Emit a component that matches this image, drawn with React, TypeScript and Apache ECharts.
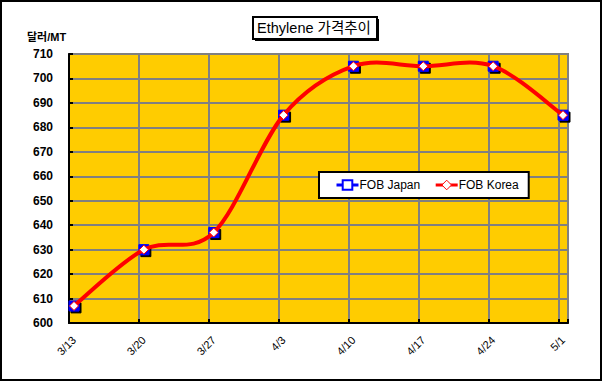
import React, { useEffect, useRef } from "react";
import * as echarts from "echarts";

const categories = ["3/13", "3/20", "3/27", "4/3", "4/10", "4/17", "4/24", "5/1"];
const fobJapan = [607, 630, 637, 685, 705, 705, 705, 685];
const fobKorea = [607, 630, 637, 685, 705, 705, 705, 685];
const yMin = 600;
const yMax = 710;
const yStep = 10;
const titleText = "Ethylene 가격추이";
const unitText = "달러/MT";

const FONT = "'Liberation Sans', Arial, sans-serif";

// Catmull-Rom style smoothing (like a spreadsheet's smoothed line), drawn through the axis scale
function smoothPath(pts: number[][]): string {
  if (pts.length < 2) return "";
  let d = `M${pts[0][0]},${pts[0][1]}`;
  for (let i = 0; i < pts.length - 1; i++) {
    const p0 = pts[i - 1] || pts[i];
    const p1 = pts[i];
    const p2 = pts[i + 1];
    const p3 = pts[i + 2] || pts[i + 1];
    const c1x = p1[0] + (p2[0] - p0[0]) / 6;
    const c1y = p1[1] + (p2[1] - p0[1]) / 6;
    const c2x = p2[0] - (p3[0] - p1[0]) / 6;
    const c2y = p2[1] - (p3[1] - p1[1]) / 6;
    d += ` C${c1x},${c1y} ${c2x},${c2y} ${p2[0]},${p2[1]}`;
  }
  return d;
}

export default function App() {
  const ref = useRef<HTMLDivElement>(null);
  useEffect(() => {
    if (!ref.current) return;
    const chart = echarts.init(ref.current, null, { renderer: "svg" });
    const option: any = {
      animation: false,
      backgroundColor: "#FFFFFF",
      grid: [
        {
          left: 69, top: 54, width: 499, height: 269,
          show: true, backgroundColor: "#FFCC00", borderColor: "#808080", borderWidth: 2,
        },
        { left: 74, top: 54, width: 489, height: 269, show: false },
      ],
      xAxis: [
        {
          gridIndex: 0, type: "value", min: 0, max: 499 / 70, interval: 1,
          axisLine: { show: true, lineStyle: { color: "#000", width: 2 } },
          axisTick: { show: true, inside: true, length: 4, lineStyle: { color: "#000", width: 2 } },
          axisLabel: { show: false },
          splitLine: { show: true, lineStyle: { color: "#808080", width: 2 } },
        },
        {
          gridIndex: 1, type: "category", data: categories, boundaryGap: false,
          axisLine: { show: false }, axisTick: { show: false }, splitLine: { show: false },
          axisLabel: { rotate: 45, margin: 15, color: "#000", fontSize: 11, fontFamily: FONT },
        },
      ],
      yAxis: [
        {
          gridIndex: 0, type: "value", min: yMin, max: yMax, interval: yStep,
          axisLine: { show: true, lineStyle: { color: "#000", width: 2 } },
          axisTick: { show: true, inside: true, length: 4, lineStyle: { color: "#000", width: 2 } },
          axisLabel: { color: "#000", fontSize: 12, fontWeight: "bold", fontFamily: FONT, margin: 16 },
          splitLine: { show: true, lineStyle: { color: "#808080", width: 2 } },
        },
        { gridIndex: 1, type: "value", min: yMin, max: yMax, show: false },
      ],
      legend: {
        left: 319, top: 172, orient: "horizontal",
        backgroundColor: "#FFFFFF", borderColor: "#000", borderWidth: 2,
        padding: [7, 10, 7, 16], itemGap: 14, itemWidth: 22, itemHeight: 12,
        textStyle: { color: "#000", fontSize: 12, fontFamily: FONT, padding: [0, 0, 0, -4] },
        data: [
          {
            name: "FOB Japan",
            itemStyle: { color: "#FFFFFF", borderColor: "#0000FF", borderWidth: 2, shadowColor: "transparent", shadowOffsetX: 0, shadowOffsetY: 0 },
            lineStyle: { color: "#0000FF", width: 3, opacity: 1 },
          },
          {
            name: "FOB Korea",
            itemStyle: { color: "#FFFFFF", borderColor: "#FF0000", borderWidth: 1 },
            lineStyle: { color: "#FF0000", width: 3, opacity: 1 },
          },
        ],
      },
      series: [
        {
          name: "FOB Japan", type: "line", xAxisIndex: 1, yAxisIndex: 1, data: fobJapan,
          symbol: "rect", symbolSize: 10,
          itemStyle: { color: "#0000FF", borderColor: "#0000FF", shadowColor: "#000", shadowBlur: 0, shadowOffsetX: 2, shadowOffsetY: 2 },
          lineStyle: { width: 0, opacity: 0, color: "#0000FF" },
          z: 2,
        },
        {
          name: "FOB Korea curve", type: "custom", xAxisIndex: 1, yAxisIndex: 1,
          data: fobKorea.map((v, i) => [i, v]),
          renderItem: (params: any, api: any) => {
            if (params.dataIndex !== 0) return null;
            const pts = fobKorea.map((v, i) => api.coord([i, v]));
            return {
              type: "path",
              shape: { pathData: smoothPath(pts) },
              style: { fill: "none", stroke: "#FF0000", lineWidth: 4 },
            };
          },
          z: 3, silent: true,
        },
        {
          name: "FOB Korea", type: "line", xAxisIndex: 1, yAxisIndex: 1, data: fobKorea,
          symbol: "diamond", symbolSize: 9,
          itemStyle: { color: "#FFFFFF", borderColor: "#FF0000", borderWidth: 1 },
          lineStyle: { width: 0, opacity: 0, color: "#FF0000" },
          z: 4,
        },
      ],
      graphic: [
        { type: "rect", shape: { x: 1, y: 1, width: 600, height: 379 }, style: { fill: "none", stroke: "#000", lineWidth: 2 }, silent: true, z: 100 },
        { type: "rect", shape: { x: 255, y: 19, width: 124, height: 22 }, style: { fill: "#000" }, z: 10 },
        { type: "rect", shape: { x: 253, y: 17, width: 124, height: 22 }, style: { fill: "#FFF", stroke: "#000", lineWidth: 2 }, z: 11 },
        {
          type: "text", x: 314, y: 28, z: 12,
          style: { text: titleText, fill: "#000", font: `14.5px 'Liberation Sans', 'Noto Sans CJK KR', sans-serif`, textAlign: "center", textVerticalAlign: "middle" },
        },
        {
          type: "text", x: 27, y: 37, z: 12,
          style: { text: unitText, fill: "#000", font: `bold 11px 'Liberation Sans', 'Noto Sans CJK KR', sans-serif`, textAlign: "left", textVerticalAlign: "middle" },
        },
      ],
    };
    chart.setOption(option);
    return () => chart.dispose();
  }, []);
  return <div ref={ref} style={{ position: "fixed", left: 0, top: 0, width: 603, height: 382 }} />;
}
